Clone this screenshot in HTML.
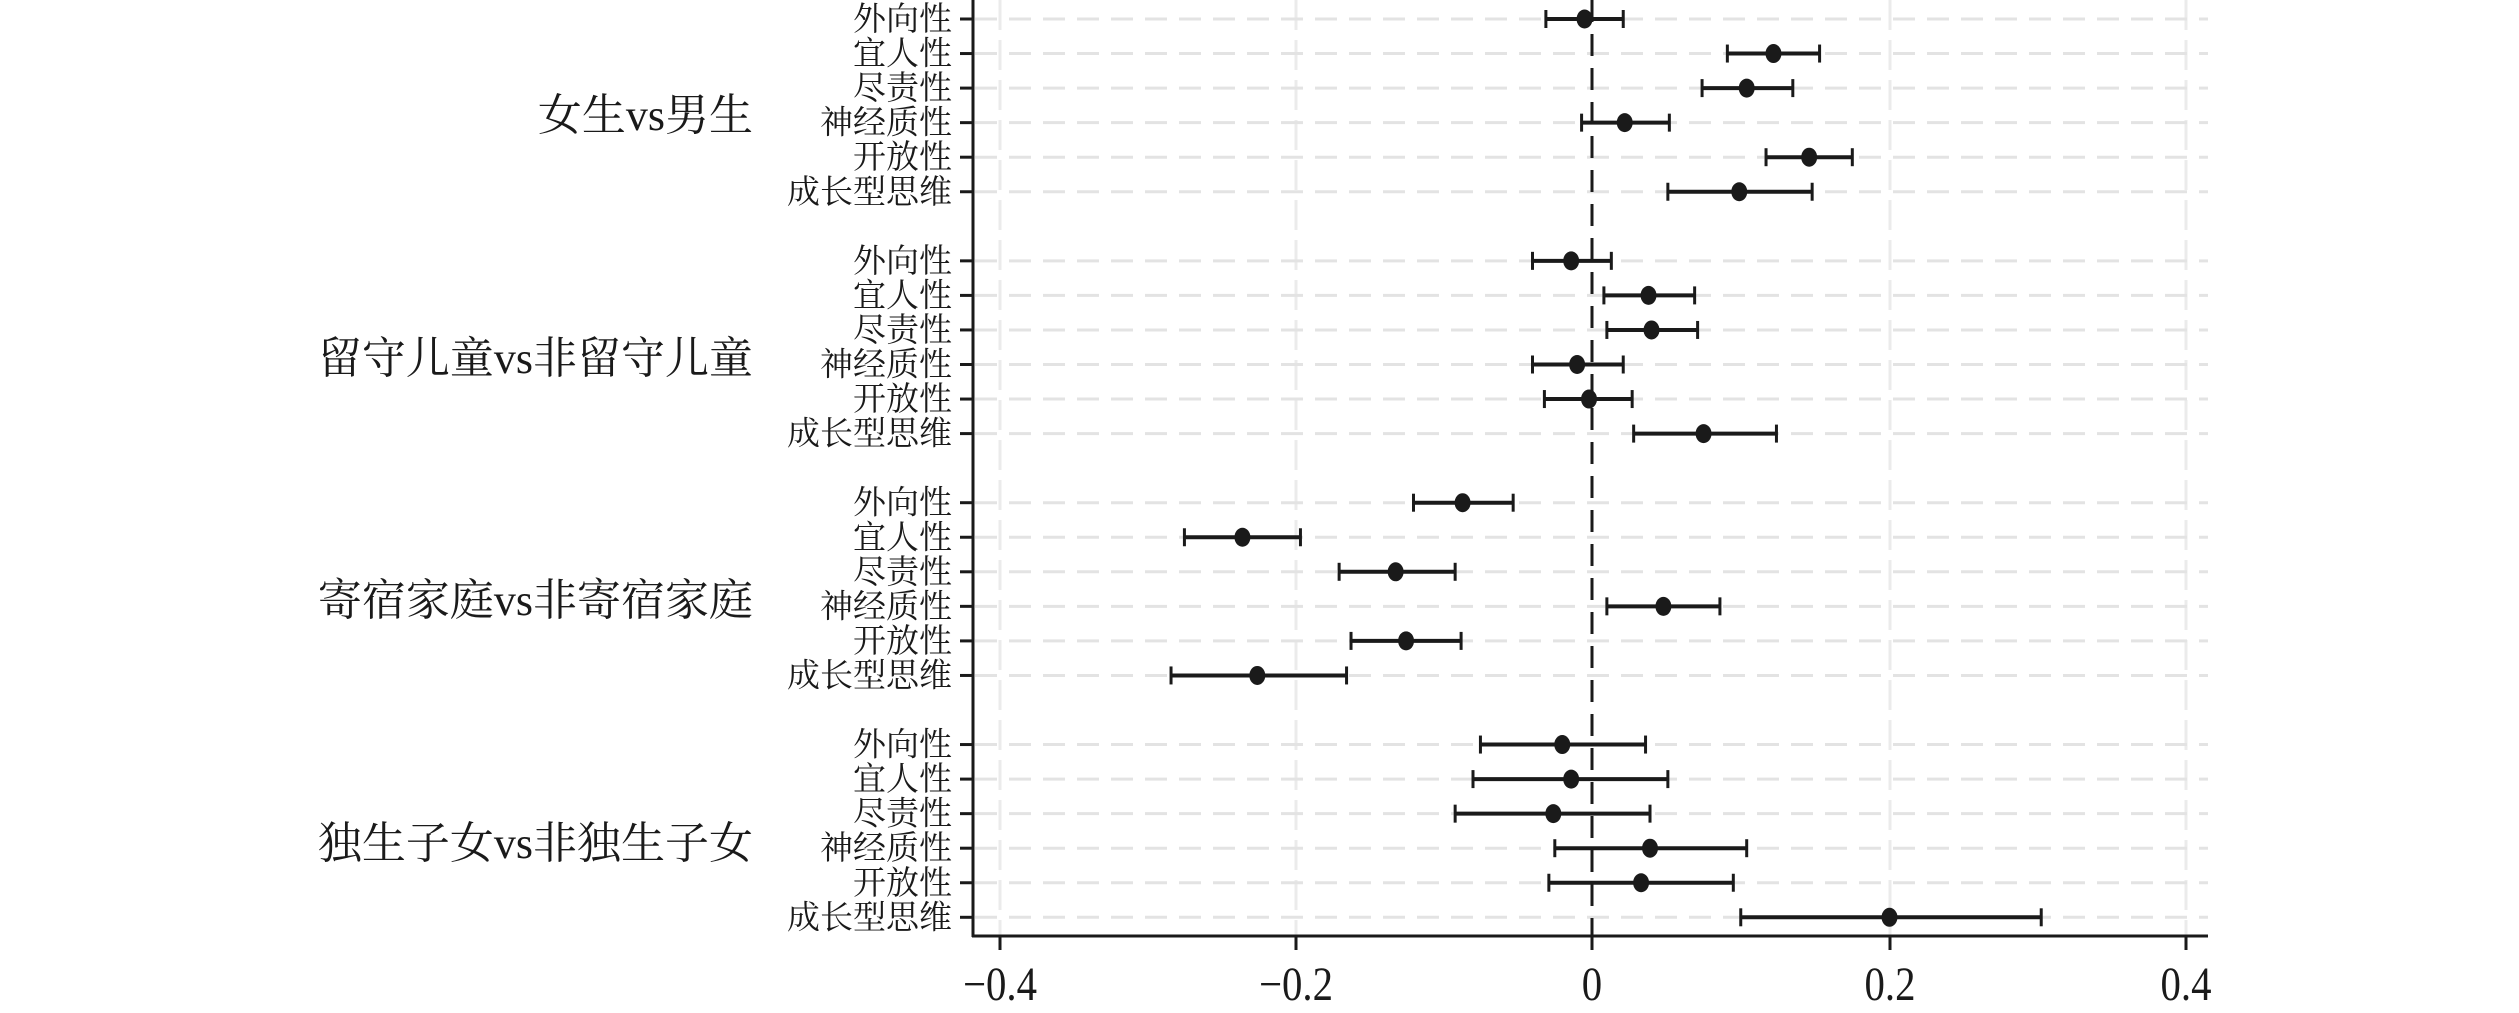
<!DOCTYPE html>
<html><head><meta charset="utf-8"><style>
html,body{margin:0;padding:0;background:#fff;}
svg{display:block;}
text{font-family:"Liberation Serif","Noto Serif CJK SC",serif;fill:#1a1a1a;}
</style></head><body>
<svg width="2519" height="1013" viewBox="0 0 2519 1013" xmlns="http://www.w3.org/2000/svg" id="s">
<g stroke="#ebebeb" stroke-width="3" stroke-dasharray="30,10">
<line x1="1000" y1="0" x2="1000" y2="936"/><line x1="1296" y1="0" x2="1296" y2="936"/><line x1="1890" y1="0" x2="1890" y2="936"/><line x1="2186" y1="0" x2="2186" y2="936"/>
</g>
<g id="rows"></g>
<line x1="1592" y1="0" x2="1592" y2="936" stroke="#1a1a1a" stroke-width="3" stroke-dasharray="22,12"/>
<g stroke="#1a1a1a" stroke-width="3">
<line x1="973" y1="0" x2="973" y2="937"/>
<line x1="972" y1="936" x2="2208" y2="936"/>
<line x1="1000" y1="936" x2="1000" y2="950"/><line x1="1296" y1="936" x2="1296" y2="950"/><line x1="1592" y1="936" x2="1592" y2="950"/><line x1="1890" y1="936" x2="1890" y2="950"/><line x1="2186" y1="936" x2="2186" y2="950"/>
</g>
<g font-size="48" text-anchor="middle">
<text x="1000" y="1000" transform="translate(1000 0) scale(0.85 1) translate(-1000 0)">−0.4</text>
<text x="1296" y="1000" transform="translate(1296 0) scale(0.85 1) translate(-1296 0)">−0.2</text>
<text x="1592" y="1000" transform="translate(1592 0) scale(0.85 1) translate(-1592 0)">0</text>
<text x="1890" y="1000" transform="translate(1890 0) scale(0.85 1) translate(-1890 0)">0.2</text>
<text x="2186" y="1000" transform="translate(2186 0) scale(0.85 1) translate(-2186 0)">0.4</text>
</g>
<g font-size="44" text-anchor="end">
<text x="753" y="130">女生vs男生</text>
<text x="753" y="373">留守儿童vs非留守儿童</text>
<text x="753" y="615">寄宿家庭vs非寄宿家庭</text>
<text x="753" y="858">独生子女vs非独生子女</text>
</g>
<g id="labs" font-size="33" text-anchor="end"></g>
<g id="pts"></g>
</svg>
<script>
var names=["外向性","宜人性","尽责性","神经质性","开放性","成长型思维"];
var d=[
[[-0.005,-0.031,0.021],[0.122,0.091,0.153],[0.104,0.074,0.135],[0.022,-0.007,0.052],[0.146,0.117,0.175],[0.099,0.051,0.148]],
[[-0.014,-0.040,0.013],[0.038,0.008,0.069],[0.040,0.010,0.071],[-0.010,-0.040,0.021],[-0.002,-0.032,0.027],[0.075,0.028,0.124]],
[[-0.087,-0.120,-0.053],[-0.235,-0.274,-0.196],[-0.132,-0.170,-0.092],[0.048,0.010,0.086],[-0.125,-0.162,-0.088],[-0.225,-0.283,-0.165]],
[[-0.020,-0.075,0.036],[-0.014,-0.080,0.051],[-0.026,-0.092,0.039],[0.039,-0.025,0.104],[0.033,-0.029,0.095],[0.200,0.100,0.302]]];
var NS="http://www.w3.org/2000/svg";
function X(v){return 1592+v*1487.5;}
function el(p,t,a,txt){var e=document.createElementNS(NS,t);for(var k in a)e.setAttribute(k,a[k]);if(txt)e.textContent=txt;document.getElementById(p).appendChild(e);}
for(var g=0;g<4;g++)for(var i=0;i<6;i++){
var y=19+34.55*(7*g+i);var r=d[g][i];
el("rows","line",{x1:975,y1:y,x2:2208,y2:y,stroke:"#e3e3e3","stroke-width":3,"stroke-dasharray":"22,12"});
el("rows","line",{x1:960,y1:y,x2:973,y2:y,stroke:"#1a1a1a","stroke-width":3});
el("labs","text",{x:952,y:y+11},names[i]);
el("pts","line",{x1:X(r[1]),y1:y,x2:X(r[2]),y2:y,stroke:"#1a1a1a","stroke-width":4});
el("pts","line",{x1:X(r[1]),y1:y-9,x2:X(r[1]),y2:y+9,stroke:"#1a1a1a","stroke-width":3});
el("pts","line",{x1:X(r[2]),y1:y-9,x2:X(r[2]),y2:y+9,stroke:"#1a1a1a","stroke-width":3});
el("pts","ellipse",{cx:X(r[0]),cy:y,rx:8,ry:9.5,fill:"#1a1a1a"});
}
</script>
</body></html>
